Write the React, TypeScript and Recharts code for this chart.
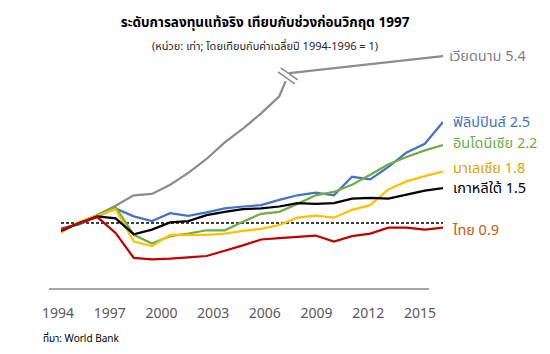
import React from "react";
import {
  LineChart,
  Line,
  XAxis,
  YAxis,
  ReferenceLine,
  ReferenceDot,
} from "recharts";

const years = [
  1994, 1995, 1996, 1997, 1998, 1999, 2000, 2001, 2002, 2003, 2004,
  2005, 2006, 2007, 2008, 2009, 2010, 2011, 2012, 2013, 2014, 2015,
];
const tickYears = [1994, 1997, 2000, 2003, 2006, 2009, 2012, 2015];

const philippines = [
  0.92, 0.98, 1.1, 1.22, 1.1, 1.03, 1.15, 1.11, 1.16, 1.22, 1.25,
  1.27, 1.35, 1.42, 1.46, 1.42, 1.7, 1.66, 1.85, 2.07, 2.2, 2.53,
];
const indonesia = [
  0.89, 1.0, 1.12, 1.24, 0.82, 0.69, 0.8, 0.84, 0.89, 0.89, 1.02,
  1.14, 1.17, 1.29, 1.42, 1.47, 1.58, 1.73, 1.89, 2.0, 2.1, 2.18,
];
const malaysia = [
  0.85, 1.02, 1.11, 1.21, 0.72, 0.65, 0.82, 0.82, 0.82, 0.84, 0.88,
  0.91, 0.97, 1.08, 1.11, 1.08, 1.2, 1.27, 1.51, 1.63, 1.71, 1.78,
];
const korea = [
  0.88, 1.0, 1.1, 1.07, 0.83, 0.9, 1.01, 1.03, 1.12, 1.17, 1.21,
  1.22, 1.25, 1.3, 1.29, 1.3, 1.37, 1.38, 1.37, 1.43, 1.49, 1.53,
];
const thailand = [
  0.89, 1.0, 1.09, 0.85, 0.47, 0.45, 0.46, 0.48, 0.5, 0.58, 0.66,
  0.75, 0.77, 0.79, 0.81, 0.72, 0.8, 0.84, 0.93, 0.93, 0.9, 0.93,
];
// Vietnam up to 2006, after that the axis is broken
const vietnam = [
  0.9, 1.0, 1.12, 1.26, 1.42, 1.44, 1.58, 1.76, 1.97, 2.22, 2.43,
  2.66, 2.92,
];
const vietnamLast = 5.4;
// positions on the broken part of the axis
const vietnamBreakYear = 2006.47;
const vietnamBreakLevel = 3.23;
const vietnamBeforeBreak = { year: 2006.35, value: 3.15 };
const vietnamAfterBreak = [
  { year: 2006.55, value: 3.27 },
  { year: 2015, value: 3.53 },
];

const series = [
  { name: "ฟิลิปปินส์", values: philippines, color: "#4472c4", text: "#4472c4", dy: 0 },
  { name: "อินโดนีเซีย", values: indonesia, color: "#70ad47", text: "#70ad47", dy: -2 },
  { name: "มาเลเซีย", values: malaysia, color: "#ffc000", text: "#dca500", dy: -4 },
  { name: "เกาหลีใต้", values: korea, color: "#000000", text: "#000000", dy: 0 },
  { name: "ไทย", values: thailand, color: "#c00000", text: "#c55a11", dy: 2 },
];

const FONT = "Tahoma, 'Noto Sans Thai', 'Noto Sans', sans-serif";

const toRows = (vals: number[]) =>
  vals.map((v, i) => ({ year: years[i], value: v }));

const vietnamRows = [...toRows(vietnam), vietnamBeforeBreak];
const tickRows = tickYears.map((y) => ({ year: y, value: 0 }));

function endLabel(text: string, color: string, count: number, dy: number, gap = 10) {
  return (props: any) => {
    if (props.index !== count - 1) return null;
    return (
      <text
        x={props.x + gap}
        y={props.y + dy}
        dy="0.35em"
        fill={color}
        fontSize={14.5}
        fontFamily={FONT}
      >
        {text}
      </text>
    );
  };
}

function BreakMark(props: any) {
  const { cx, cy } = props;
  const hx = 8.5;
  const hy = 6;
  const ox = -1.4;
  const oy = 2;
  return (
    <g stroke="#8c8c8c" strokeWidth={1.6}>
      <line x1={cx - hx - ox} y1={cy - hy - oy} x2={cx + hx - ox} y2={cy + hy - oy} />
      <line x1={cx - hx + ox} y1={cy - hy + oy} x2={cx + hx + ox} y2={cy + hy + oy} />
    </g>
  );
}

export default function App() {
  return (
    <div style={{ position: "absolute", left: 0, top: 0, width: 550, height: 354, background: "#fff", fontFamily: FONT }}>
      <div style={{ position: "absolute", left: 0, width: 530, top: 13, textAlign: "center", fontSize: 13.5, fontWeight: "bold", color: "#000" }}>
        ระดับการลงทุนแท้จริง เทียบกับช่วงก่อนวิกฤต 1997
      </div>
      <div style={{ position: "absolute", left: 0, width: 530, top: 38, textAlign: "center", fontSize: 11, color: "#262626" }}>
        (หน่วย: เท่า; โดยเทียบกับค่าเฉลี่ยปี 1994-1996 = 1)
      </div>
      <LineChart
        width={550}
        height={354}
        margin={{ top: 51.4, right: 107, bottom: 35, left: 49 }}
      >
        <XAxis
          dataKey="year"
          type="number"
          domain={[1994, 2015]}
          padding={{ left: 12, right: 0 }}
          allowDataOverflow
          height={0}
          hide
        />
        <XAxis
          xAxisId="labels"
          dataKey="year"
          type="number"
          domain={[1993.478, 2016.335]}
          ticks={tickYears}
          allowDataOverflow
          axisLine={false}
          tickLine={false}
          tickSize={17}
          tickMargin={2}
          height={30}
          tick={{ fill: "#595959", fontSize: 14, fontFamily: FONT }}
        />
        <YAxis domain={[0, 3.6]} allowDataOverflow hide />
        <Line
          xAxisId="labels"
          data={tickRows}
          dataKey="value"
          stroke="none"
          dot={false}
          activeDot={false}
          isAnimationActive={false}
        />
        <ReferenceLine
          xAxisId="labels"
          segment={[
            { x: 1993.478, y: 0 },
            { x: 2015.52, y: 0 },
          ]}
          ifOverflow="visible"
          stroke="#a6a6a6"
          strokeWidth={2}
        />
        <ReferenceLine
          segment={[
            { x: 1994, y: 1 },
            { x: 2015, y: 1 },
          ]}
          stroke="#404040"
          strokeWidth={2}
          strokeDasharray="3 2"
        />
        <Line
          data={vietnamRows}
          dataKey="value"
          stroke="#8c8c8c"
          strokeWidth={2.25}
          dot={false}
          isAnimationActive={false}
        />
        <Line
          data={vietnamAfterBreak}
          dataKey="value"
          stroke="#8c8c8c"
          strokeWidth={2.25}
          dot={false}
          isAnimationActive={false}
          label={endLabel(`เวียดนาม ${vietnamLast}`, "#7f7f7f", vietnamAfterBreak.length, 0, 6)}
        />
        <ReferenceDot
          x={vietnamBreakYear}
          y={vietnamBreakLevel}
          shape={<BreakMark />}
        />
        {series.map((s) => (
          <Line
            key={s.name}
            data={toRows(s.values)}
            dataKey="value"
            stroke={s.color}
            strokeWidth={2.25}
            dot={false}
            isAnimationActive={false}
            label={endLabel(
              `${s.name} ${s.values[s.values.length - 1].toFixed(1)}`,
              s.text,
              s.values.length,
              s.dy
            )}
          />
        ))}
      </LineChart>
      <div style={{ position: "absolute", left: 43, top: 331, fontSize: 10, color: "#000" }}>
        ที่มา: World Bank
      </div>
    </div>
  );
}
